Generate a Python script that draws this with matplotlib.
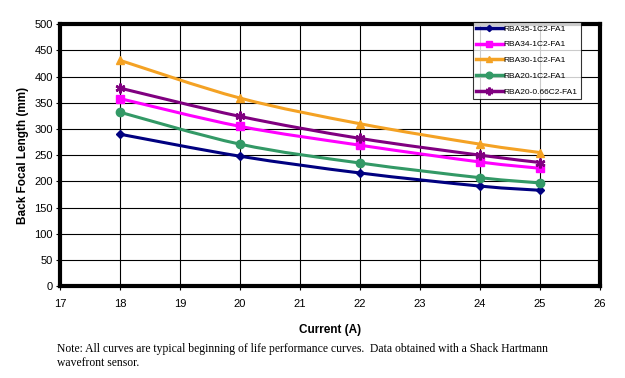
import numpy as np
import matplotlib.pyplot as plt
from matplotlib.path import Path
from matplotlib.patches import PathPatch
from matplotlib.lines import Line2D

current = [18, 20, 22, 24, 25]
rba35 = [290, 248, 216, 191, 183]
rba34 = [358, 305, 269, 237, 225]
rba30 = [431, 359, 310, 271, 255]
rba20 = [332, 271, 235, 207, 197]
rba20b = [378, 324, 282, 250, 236]

series = [
    ("RBA35-1C2-FA1", rba35, "#000080", "D", 4),
    ("RBA34-1C2-FA1", rba34, "#FF00FF", "s", 6),
    ("RBA30-1C2-FA1", rba30, "#F4A224", "^", 6),
    ("RBA20-1C2-FA1", rba20, "#339966", "o", 6),
    ("RBA20-0.66C2-FA1", rba20b, "#800080", (6, 2, 0), 7),
]


def smooth_path(x, y):
    # Excel-like smoothed line: Catmull-Rom segments as cubic Beziers
    x = np.asarray(x, float)
    y = np.asarray(y, float)
    verts = [(x[0], y[0])]
    codes = [Path.MOVETO]
    n = len(x)
    for i in range(n - 1):
        p0 = i - 1 if i > 0 else i
        p3 = i + 2 if i + 2 < n else i + 1
        c1 = (x[i] + (x[i + 1] - x[p0]) / 6, y[i] + (y[i + 1] - y[p0]) / 6)
        c2 = (x[i + 1] - (x[p3] - x[i]) / 6, y[i + 1] - (y[p3] - y[i]) / 6)
        verts += [c1, c2, (x[i + 1], y[i + 1])]
        codes += [Path.CURVE4] * 3
    return Path(verts, codes)


plt.rcParams['font.family'] = ['Liberation Sans', 'DejaVu Sans']

fig = plt.figure(figsize=(6.25, 3.78), dpi=100)
ax = fig.add_axes([0.096, 0.243, 0.864, 0.693])

handles = []
for name, vals, col, mk, ms in series:
    ax.add_patch(PathPatch(smooth_path(current, vals), fill=False,
                           edgecolor=col, lw=2.2, zorder=3))
    mew = 1.8 if mk == (6, 2, 0) else 1
    ax.plot(current, vals, linestyle="none", marker=mk, ms=ms, color=col,
            mec=col, mew=mew, zorder=4)
    handles.append(Line2D([], [], color=col, lw=2.5, marker=mk,
                          ms=ms * 0.8, mew=mew))

ax.set_xlim(17, 26)
ax.set_ylim(0, 500)
ax.set_xticks(range(17, 27))
ax.set_yticks(range(0, 501, 50))
ax.grid(True, color="black", lw=0.8)
ax.set_axisbelow(True)
for sp in ax.spines.values():
    sp.set_linewidth(3)
ax.tick_params(labelsize=8, length=3, width=0.8, pad=2)
ax.tick_params(axis="x", pad=6)
ax.set_xlabel("Current (A)", fontsize=8.5, fontweight="bold", labelpad=11)
ax.set_ylabel("Back Focal Length (mm)", fontsize=8.5, fontweight="bold",
              labelpad=4)

leg = ax.legend(handles, [s[0] for s in series], loc="upper left",
                bbox_to_anchor=(0.764, 1.01), fontsize=6.0, frameon=True,
                fancybox=False, handlelength=3.2, handletextpad=0.1,
                borderpad=0.4, labelspacing=0.95, borderaxespad=0)
leg.get_frame().set_edgecolor("black")
leg.get_frame().set_linewidth(0.8)
leg.set_zorder(10)

fig.text(0.091, 0.025, "Note: All curves are typical beginning of life performance curves.  "
         "Data obtained with a Shack Hartmann\nwavefront sensor.",
         fontsize=8.4, family=["Liberation Serif", "DejaVu Serif"],
         va="bottom", linespacing=1.2)

fig.savefig("out.png", dpi=100)
